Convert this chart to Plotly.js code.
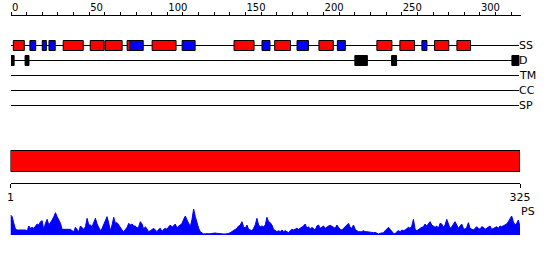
<!DOCTYPE html>
<html><head><meta charset="utf-8">
<script src="https://cdn.plot.ly/plotly-3.0.1.min.js"></script>
<style>html,body{margin:0;padding:0;background:#fff}</style>
</head><body><div id="chart" style="width:550px;height:260px"></div>
<script>
const seqLength = 325;
const trackNames = ['SS', 'D', 'TM', 'CC', 'SP'];
const helixStart = [1.5, 33.4, 50.7, 60.3, 74.3, 90.3, 142.7, 168.7, 197.0, 234.1, 248.8, 271.0, 285.3];
const helixEnd   = [8.5, 46.2, 59.6, 71.1, 76.1, 105.6, 155.5, 178.8, 206.2, 243.7, 258.2, 280.1, 294.0];
const strandStart = [12.1, 20.0, 24.3, 76.1, 109.5, 160.6, 183.0, 208.8, 262.9];
const strandEnd   = [15.8, 22.6, 28.3, 84.6, 117.8, 165.7, 190.3, 213.9, 266.1];
const disorderStart = [-0.5, 9.0, 220.0, 243.5, 320.5];
const disorderEnd   = [2.0, 11.5, 228.0, 246.7, 325.0];
const topTicks = [0, 50, 100, 150, 200, 250, 300];
const bottomTicks = [1, 325];
const psScore = [
  60,55,35,17,15,15,15,15,15,15, 12,27,20,23,20,25,33,30,40,43,
  15,35,47,30,37,45,55,67,55,47, 35,17,17,17,17,17,17,13,10,23,
  15,10,27,23,17,25,50,30,30,25, 40,50,33,25,13,20,33,45,55,35,
  13,30,53,35,37,30,20,15,10,17, 23,35,30,33,27,27,20,25,40,33,
  17,25,15,10,13,17,20,15,10,17, 20,10,17,20,17,25,30,23,27,33,
  20,27,30,35,47,57,45,37,25,47, 78,55,35,20,10,5,3,4,5,4,
  4,5,7,6,5,4,4,3,3,3, 3,5,7,10,15,17,20,27,30,40,
  25,20,30,17,15,13,20,30,50,30, 25,27,25,30,53,40,
  37,30,17,13,10,13,10,15,10,13, 10,7,13,17,15,17,20,17,20,23,
  27,33,20,25,17,23,20,15,27,30, 20,25,27,20,25,27,29,25,23,20,
  30,23,17,15,20,25,33,35,23,20, 30,17,13,10,10,10,13,10,10,9,
  9,7,7,8,5,3,5,6,7,13, 17,23,17,10,5,3,10,13,10,15,
  13,15,20,23,20,27,47,17,13,17, 20,23,25,33,27,35,40,30,25,23,
  27,20,35,33,23,30,47,30,20,25, 33,40,30,20,27,33,20,17,23,37,
  20,17,15,20,25,20,17,25,23,17, 20,23,27,17,20,23,25,20,27,25,
  27,30,33,40,50,57,40,30,35,45, 25
];

// layout geometry (pixels from top)
const H = 260, W = 550;
const trackY = [45.5, 60.5, 75.5, 90.5, 105.5];
const boxHalf = 5;

const shapes = [];
// track base lines
trackY.forEach(y => shapes.push({type:'line', xref:'x', yref:'y', x0:0, x1:seqLength, y0:y, y1:y, line:{color:'#000', width:1}}));
// secondary structure
helixStart.forEach((s, i) => shapes.push({type:'rect', xref:'x', yref:'y', x0:s, x1:helixEnd[i], y0:trackY[0]-boxHalf, y1:trackY[0]+boxHalf, fillcolor:'#ff0000', line:{color:'#000', width:1}}));
strandStart.forEach((s, i) => shapes.push({type:'rect', xref:'x', yref:'y', x0:s, x1:strandEnd[i], y0:trackY[0]-boxHalf, y1:trackY[0]+boxHalf, fillcolor:'#0000ff', line:{color:'#000', width:1}}));
// disorder
disorderStart.forEach((s, i) => shapes.push({type:'rect', xref:'x', yref:'y', x0:s, x1:disorderEnd[i], y0:trackY[1]-boxHalf, y1:trackY[1]+boxHalf, fillcolor:'#000', line:{color:'#000', width:1}}));
// domain bar
shapes.push({type:'rect', xref:'x2', yref:'y', x0:bottomTicks[0], x1:seqLength, y0:150.5, y1:171.5, fillcolor:'#ff0000', line:{color:'#000', width:1}});

const font = {family:'DejaVu Sans', size:11, color:'#000'};
const annotations = trackNames.map((t, i) => ({xref:'x', yref:'y', x:seqLength, y:trackY[i], text:t, showarrow:false, xanchor:'left', yanchor:'middle', xshift:-2, font:font}));
annotations.push({xref:'x2', yref:'y', x:seqLength, y:211, text:'PS', showarrow:false, xanchor:'left', yanchor:'middle', xshift:-1, font:font});

const psX = psScore.map((v, i) => bottomTicks[0] + i * (seqLength - bottomTicks[0]) / (psScore.length - 1));

const data = [
  {x:[], y:[], type:'scatter', xaxis:'x', yaxis:'y', hoverinfo:'skip', showlegend:false},
  {x:psX, y:psScore, type:'scatter', mode:'lines', fill:'tozeroy', fillcolor:'#0000ff', line:{color:'#0000ff', width:1}, xaxis:'x2', yaxis:'y2', hoverinfo:'skip', showlegend:false}
];

const layout = {
  width:W, height:H, margin:{l:0, r:0, t:0, b:0}, paper_bgcolor:'#fff', plot_bgcolor:'rgba(0,0,0,0)', showlegend:false,
  xaxis:{domain:[11/W, 521/W], range:[0, 326.3], anchor:'free', position:1-14.5/H, side:'top',
    showline:true, linecolor:'#000', linewidth:1, ticks:'outside', ticklen:3, tickcolor:'#000', tickwidth:1,
    tickmode:'array', tickvals:topTicks, ticklabelposition:'outside right',
    tickfont:{family:'DejaVu Sans', size:10, color:'#000'},
    minor:{tickmode:'linear', tick0:0, dtick:10, ticks:'outside', ticklen:3, tickcolor:'#000', tickwidth:1, showgrid:false},
    showgrid:false, zeroline:false, fixedrange:true},
  yaxis:{domain:[0,1], range:[H, 0], visible:false, fixedrange:true},
  xaxis2:{domain:[10.5/W, 520/W], range:[bottomTicks[0], seqLength], anchor:'free', position:1-182.5/H, side:'bottom',
    showline:true, linecolor:'#000', linewidth:1, ticks:'outside', ticklen:4, tickcolor:'#000', tickwidth:1,
    tickmode:'array', tickvals:bottomTicks, tickfont:font, showgrid:false, zeroline:false, fixedrange:true},
  yaxis2:{domain:[(H-235)/H, (H-205)/H], range:[0, 90], anchor:'x2', visible:false, fixedrange:true},
  shapes:shapes, annotations:annotations
};

Plotly.newPlot('chart', data, layout, {staticPlot:true, displayModeBar:false});
</script>
</body></html>
